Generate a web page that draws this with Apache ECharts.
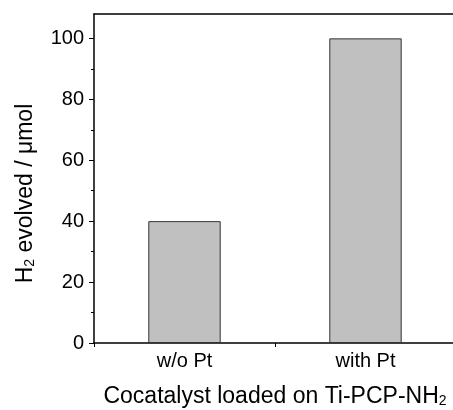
<!DOCTYPE html>
<html>
<head>
<meta charset="utf-8">
<script src="https://cdn.jsdelivr.net/npm/echarts@6/dist/echarts.min.js"></script>
<style>
  html, body { margin: 0; padding: 0; background: #fff; }
  #chart { width: 453px; height: 410px; }
</style>
</head>
<body>
<div id="chart"></div>
<script>
  // data
  const categories = ['w/o Pt', 'with Pt'];
  const h2Values = [40, 100];
  const yMajorTicks = [0, 20, 40, 60, 80, 100];
  const yMinorTicks = [10, 30, 50, 70, 90];

  const font = 'Liberation Sans, Arial, sans-serif';
  const titleRich = {
    a: { fontSize: 23, lineHeight: 23, verticalAlign: 'top', fontFamily: font, color: '#000' },
    s: { fontSize: 14, lineHeight: 14, padding: [18, 0, 0, 0], verticalAlign: 'bottom', fontFamily: font, color: '#000' }
  };

  let myChart = echarts.init(document.getElementById('chart'), null, { renderer: 'canvas' });

  let options = {
    animation: false,
    backgroundColor: '#fff',
    grid: {
      left: 94,
      right: -3,
      top: 14,
      bottom: 67,
      outerBoundsMode: 'none'
    },
    xAxis: [{
      type: 'category',
      data: categories,
      position: 'bottom',
      axisLine: { lineStyle: { color: '#000', width: 1.5 } },
      axisTick: { show: true, alignWithLabel: false, length: 4, lineStyle: { color: '#000', width: 1 } },
      axisLabel: { fontSize: 20, fontFamily: font, color: '#000', margin: 8 },
      name: '{a|Cocatalyst loaded on Ti-PCP-NH}{s|2}',
      nameLocation: 'middle',
      nameGap: 42,
      nameTextStyle: { rich: titleRich }
    }, {
      type: 'category',
      data: categories,
      position: 'top',
      axisLine: { show: true, onZero: false, lineStyle: { color: '#000', width: 1.5 } },
      axisTick: { show: false },
      axisLabel: { show: false }
    }],
    yAxis: [{
      type: 'value',
      min: 0,
      max: 108,
      axisLine: { show: true, onZero: false, lineStyle: { color: '#000', width: 1.5 } },
      axisTick: { show: true, length: 5, customValues: yMajorTicks, lineStyle: { color: '#000', width: 1 } },
      axisLabel: { customValues: yMajorTicks, fontSize: 20, fontFamily: font, color: '#000', margin: 10 },
      splitLine: { show: false },
      name: '{a|H}{s|2}{a| evolved / μmol}',
      nameLocation: 'middle',
      nameRotate: 90,
      nameGap: 57,
      nameTextStyle: { rich: titleRich, padding: [0, 30, 0, 0] }
    }, {
      type: 'value',
      min: 0,
      max: 108,
      position: 'left',
      axisLine: { show: false },
      axisTick: { show: true, length: 3, customValues: yMinorTicks, lineStyle: { color: '#000', width: 1 } },
      axisLabel: { show: false },
      splitLine: { show: false }
    }],
    series: [{
      name: 'H2 evolved',
      type: 'bar',
      data: h2Values,
      barWidth: '40%',
      itemStyle: {
        color: '#c0c0c0',
        borderColor: '#333',
        borderWidth: 1
      }
    }]
  };
  myChart.setOption(options);
</script>
</body>
</html>
